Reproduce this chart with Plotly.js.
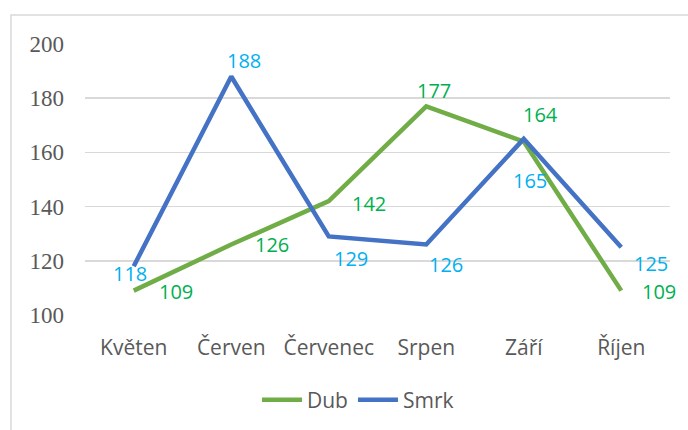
<!DOCTYPE html>
<html><head><meta charset="utf-8">
<script src="https://cdn.plot.ly/plotly-3.0.1.min.js"></script>
<style>body{margin:0;background:#fff}#c{width:688px;height:430px}</style>
</head><body><div id="c"></div>
<script>
const months = ["Květen", "Červen", "Červenec", "Srpen", "Září", "Říjen"];
const dub = [109, 126, 142, 177, 164, 109];
const smrk = [118, 188, 129, 126, 165, 125];
const yTicks = [100, 120, 140, 160, 180, 200];

// label offsets in pixels (style only): [dx, dy], dy positive = down
const dubOff = [[42, 1], [41, 0], [40, 2], [8, -16], [17, -27], [38, 1]];
const smrkOff = [[-4, 7], [13, -16], [22, 22], [20, 20], [6, 42], [30, 16]];

const W = 688, H = 430, L = 85, R = 18, T = 44, B = 115;
const pw = W - L - R, ph = H - T - B;

const annos = [];
months.forEach((m, i) => {
  annos.push({x: m, y: dub[i], text: String(dub[i]), showarrow: false,
    xshift: dubOff[i][0], yshift: -dubOff[i][1],
    font: {family: "Open Sans", size: 20, color: "#00B050"}});
  annos.push({x: m, y: smrk[i], text: String(smrk[i]), showarrow: false,
    xshift: smrkOff[i][0], yshift: -smrkOff[i][1],
    font: {family: "Open Sans", size: 20, color: "#00B0F0"}});
});

const traces = [
  {x: months, y: dub, name: "Dub", type: "scatter", mode: "lines",
   line: {color: "#70AD47", width: 4.5}},
  {x: months, y: smrk, name: "Smrk", type: "scatter", mode: "lines",
   line: {color: "#4472C4", width: 4.5}}
];

const layout = {
  width: W, height: H,
  margin: {l: L, r: R, t: T, b: B, autoexpand: false},
  paper_bgcolor: "#fff", plot_bgcolor: "#fff",
  showlegend: true,
  legend: {orientation: "h", x: (358 - L) / pw, xanchor: "center",
    y: -(400 - T - ph) / ph, yanchor: "middle",
    font: {family: "Open Sans", size: 21, color: "#595959"}, itemwidth: 40},
  xaxis: {type: "category", range: [-0.5, 5.5], showgrid: false, zeroline: false,
    showline: false, ticks: "", ticklabelstandoff: 18,
    tickfont: {family: "Open Sans", size: 21, color: "#595959"}},
  yaxis: {range: [100, 200], tickvals: yTicks, ticktext: yTicks.map(String),
    showgrid: true, gridcolor: "#d9d9d9", gridwidth: 1.5, zeroline: false,
    showline: false, ticks: "", ticklabelstandoff: 20,
    tickfont: {family: "Liberation Serif", size: 23, color: "#595959"}},
  annotations: annos,
  shapes: [{type: "rect", xref: "paper", yref: "paper",
    x0: (11 - L) / pw, x1: (700 - L) / pw,
    y0: -(445 - T - ph) / ph, y1: 1 + (T - 15) / ph,
    line: {color: "#d9d9d9", width: 1.5}, fillcolor: "rgba(0,0,0,0)", layer: "below"}]
};

Plotly.newPlot("c", traces, layout, {displayModeBar: false, staticPlot: true});
</script></body></html>
